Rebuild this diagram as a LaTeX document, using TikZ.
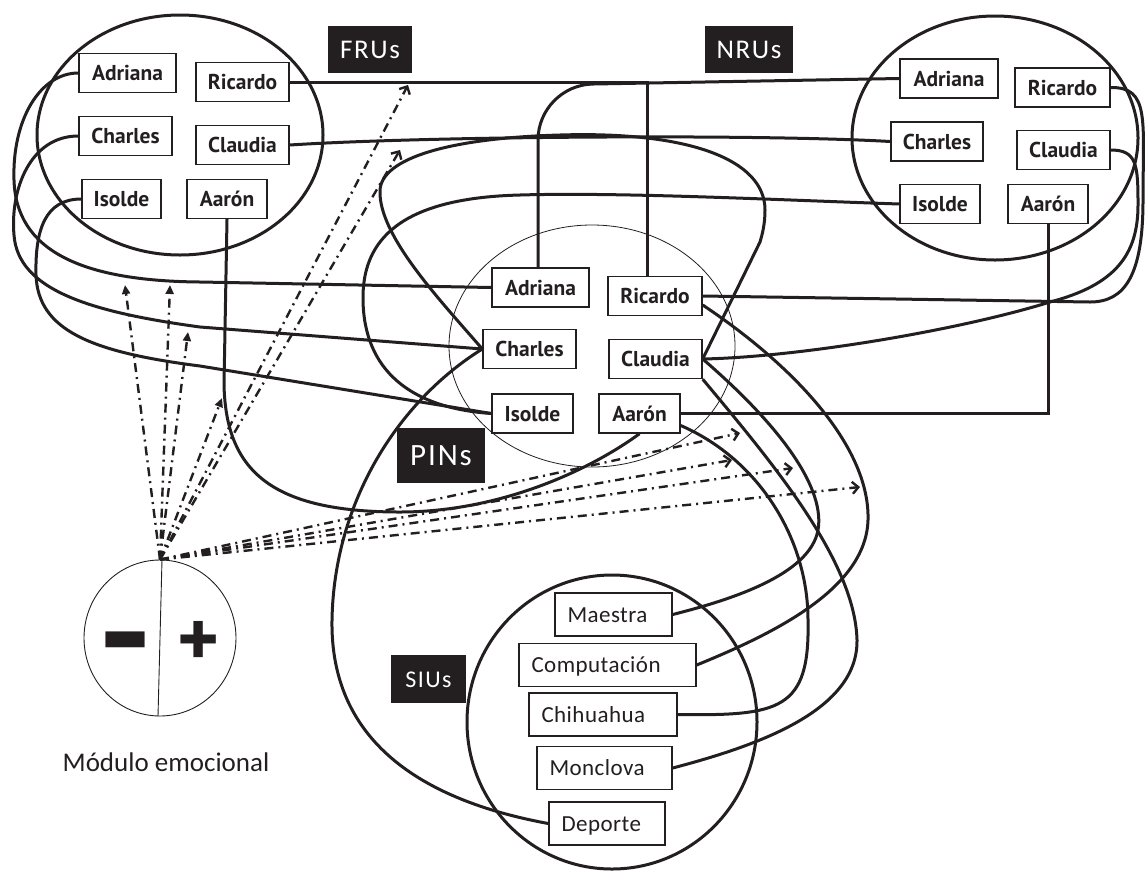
\documentclass[tikz,border=0pt]{standalone}
\usepackage{fontspec}
\setmainfont{PT Sans}
\newfontfamily\carlito{Carlito}
\newfontfamily\carlitowide[LetterSpace=2]{Carlito}
\newfontfamily\carlitotag[LetterSpace=6]{Carlito}
\usetikzlibrary{arrows.meta,shapes.geometric}
\definecolor{inkblack}{RGB}{35,31,32}

\tikzset{
  namebox/.style={draw=inkblack, fill=white, line width=1.4pt, inner sep=0pt, minimum width=#1, minimum height=39pt, text height=15pt, text depth=0pt, text=inkblack, font=\fontsize{21.5}{21.5}\selectfont\bfseries},
  placebox/.style={draw=inkblack, fill=white, line width=1.4pt, inner xsep=12.5pt, inner ysep=0pt, minimum height=43pt, text width=#1, align=left, text height=15pt, text depth=0pt, text=inkblack, font=\carlitowide\fontsize{23}{23}\selectfont},
  tagbox/.style={fill=inkblack, text=white, inner sep=0pt, text depth=0pt},
  groupring/.style={draw=inkblack, line width=3pt},
  link/.style={draw=inkblack, line width=3pt},
  feelup/.style={draw=inkblack, line width=2.4pt, dash pattern=on 9pt off 5pt on 2pt off 5pt, -{Triangle[length=9pt,width=8pt]}},
  feelright/.style={draw=inkblack, line width=2.4pt, dash pattern=on 9pt off 5pt on 2pt off 5pt, -{Straight Barb[length=6pt,width=12pt]}}
}

\begin{document}
\begin{tikzpicture}[x=1pt, y=-1pt]
\useasboundingbox (0,0) rectangle (1145,871);

% Group rings
\draw[groupring] (180,135) ellipse [x radius=143pt, y radius=120pt];
\draw[groupring] (995,138) ellipse [x radius=143pt, y radius=122pt];
\draw[inkblack, line width=0.8pt] (592,346) ellipse [x radius=143pt, y radius=121pt];
\draw[groupring] (612,722) ellipse [x radius=145pt, y radius=147pt];

% FRU names
\node[namebox=97pt] (fAdriana) at (127.5,73) {Adriana};
\node[namebox=93pt] (fRicardo) at (242.5,82) {Ricardo};
\node[namebox=93pt] (fCharles) at (125.5,136) {Charles};
\node[namebox=93pt] (fClaudia) at (242.5,145) {Claudia};
\node[namebox=79pt] (fIsolde) at (121.5,199) {Isolde};
\node[namebox=80pt] (fAaron) at (227,199) {Aarón};

% NRU names
\node[namebox=98pt] (nAdriana) at (949,78.5) {Adriana};
\node[namebox=95pt] (nRicardo) at (1062.5,87.5) {Ricardo};
\node[namebox=92pt] (nCharles) at (937,141.5) {Charles};
\node[namebox=93pt] (nClaudia) at (1063.5,150) {Claudia};
\node[namebox=80pt] (nIsolde) at (940,204) {Isolde};
\node[namebox=80pt] (nAaron) at (1048,204) {Aarón};

% PIN names
\node[namebox=97pt] (pAdriana) at (540.5,287.5) {Adriana};
\node[namebox=94pt] (pRicardo) at (655,296) {Ricardo};
\node[namebox=93pt] (pCharles) at (529.5,349) {Charles};
\node[namebox=93pt] (pClaudia) at (655.5,359) {Claudia};
\node[namebox=81pt] (pIsolde) at (532.5,413.5) {Isolde};
\node[namebox=81pt] (pAaron) at (639.5,413.5) {Aarón};

% SIU places
\node[placebox=92pt] (sMaestra) at (613.5,614.5) {Maestra};
\node[placebox=152pt] (sComputacion) at (607.5,665) {Computación};
\node[placebox=123pt] (sChihuahua) at (603,714.5) {Chihuahua};
\node[placebox=110pt] (sMonclova) at (604.5,768) {Monclova};
\node[placebox=91pt] (sDeporte) at (607,823.5) {Deporte};

% FRU links
\draw[link] (fAdriana.west) .. controls (40,73) and (12,120) .. (14,180) .. controls (16,250) and (80,281) .. (200,282) -- (pAdriana.west);
\draw[link] (fCharles.west) .. controls (30,136) and (10,190) .. (14,235) .. controls (18,290) and (90,312) .. (200,327) -- (pCharles.west);
\draw[link] (fIsolde.west) .. controls (45,199) and (35,230) .. (36,275) .. controls (38,330) and (90,352) .. (200,366) -- (pIsolde.west);
\draw[link] (fRicardo.east) -| ([xshift=-8pt]pRicardo.north);
\draw[link] (fAaron.south) -- (224,385) .. controls (226,470) and (270,512) .. (400,512) .. controls (500,512) and (590,470) .. (pAaron.south);
\draw[link] (fClaudia.east) .. controls (430,136) and (760,134) .. (nCharles.west);

% NRU links
\draw[link, rounded corners=55pt] (nAdriana.west) -- (538,85) -- ([xshift=-2.5pt]pAdriana.north);
\draw[link] (nIsolde.west) .. controls (780,200) and (620,192) .. (520,195) .. controls (400,198) and (362,240) .. (363,300) .. controls (364,370) and (410,408) .. (pIsolde.west);
\draw[link] (nRicardo.east) .. controls (1150,87) and (1143,120) .. (1143,200) .. controls (1143,275) and (1125,302) .. (1090,302) -- (pRicardo.east);
\draw[link] (nClaudia.east) .. controls (1137,150) and (1138,165) .. (1138,205) .. controls (1138,255) and (1115,285) .. (1050,302) .. controls (960,330) and (800,357) .. (pClaudia.east);
\draw[link] (nAaron.south) |- (pAaron.east);

% PIN loop
\draw[link] (pCharles.west) .. controls (440,300) and (378,235) .. (380,190) .. controls (382,158) and (450,138) .. (560,135) .. controls (690,131) and (765,160) .. (765,210) .. controls (765,225) and (762,235) .. (760,242) -- (pClaudia.east);

% PIN to SIU links
\draw[link] ([yshift=-9pt]pRicardo.east) .. controls (800,370) and (870,450) .. (868,520) .. controls (866,590) and (770,635) .. (sComputacion.east);
\draw[link] (pClaudia.east) .. controls (785,430) and (825,490) .. (818,530) .. controls (810,575) and (730,600) .. (sMaestra.east);
\draw[link] (pClaudia.south east) .. controls (770,460) and (855,560) .. (857,640) .. controls (858,710) and (760,745) .. (sMonclova.east);
\draw[link] ([yshift=-12pt]pAaron.east) .. controls (760,460) and (808,540) .. (808,620) .. controls (810,710) and (780,716) .. (sChihuahua.east);
\draw[link] (sDeporte.west) .. controls (420,800) and (330,740) .. (332,620) .. controls (334,500) and (400,400) .. (pCharles.west);

% Group tags
\node[tagbox, minimum width=84pt, minimum height=47pt, text height=17pt, font=\carlitotag\fontsize{27}{27}\selectfont] (fruTag) at (370,49.5) {FRUs};
\node[tagbox, minimum width=88pt, minimum height=47pt, text height=17pt, font=\carlitotag\fontsize{27}{27}\selectfont] (nruTag) at (749,49.5) {NRUs};
\node[tagbox, minimum width=88pt, minimum height=55pt, text height=20pt, font=\carlitotag\fontsize{31}{31}\selectfont] (pinTag) at (441,455.5) {PINs};
\node[tagbox, minimum width=75pt, minimum height=48pt, text height=16pt, font=\carlitotag\fontsize{24}{24}\selectfont] (siuTag) at (428.5,679) {SIUs};

% Emotional module
\node[draw=inkblack, line width=0.9pt, ellipse, minimum width=152pt, minimum height=156pt, inner sep=0pt] (emo) at (160,638) {};
\draw[inkblack, line width=0.9pt] ([xshift=2pt]emo.north) -- ([xshift=-2pt]emo.south);
\node[text=inkblack, font=\fontsize{60}{60}\selectfont\bfseries, xscale=2.6, yscale=2.3] (minus) at (126,656) {-};
\node[text=inkblack, font=\fontsize{80}{80}\selectfont\bfseries] (plus) at (199,644) {+};
\node[text=inkblack, font=\carlito\fontsize{27}{27}\selectfont] (emoText) at (166,762) {Módulo emocional};

% Emotional arrows
\coordinate (t1) at (125,285);
\coordinate (t2) at (170,285);
\coordinate (t3) at (188,332);
\coordinate (t4) at (222,398);
\coordinate (t5) at (408,85);
\coordinate (t6) at (400,150);
\coordinate (t7) at (740,433);
\coordinate (t8) at (732,460);
\coordinate (t9) at (793,468);
\coordinate (t10) at (860,487);
\foreach \t in {t1,t2,t3,t4}
  \draw[feelup] (emo.north) -- (\t);
\foreach \t in {t5,t6,t7,t8,t9,t10}
  \draw[feelright] (emo.north) -- (\t);
\end{tikzpicture}
\end{document}
